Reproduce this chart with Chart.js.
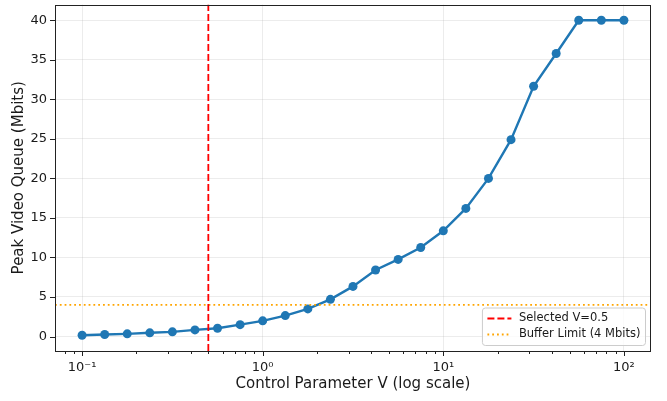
<!DOCTYPE html>
<html>
<head>
<meta charset="utf-8">
<script src="https://cdn.jsdelivr.net/npm/chart.js@4/dist/chart.umd.min.js"></script>
<style>
  html, body { margin: 0; padding: 0; background: #fff; }
  #wrap { width: 667px; height: 401px; position: relative; }
</style>
</head>
<body>
<div id="wrap"><canvas id="c"></canvas></div>
<script>
// ---- data ----
const controlV = [0.1, 0.1334, 0.1778, 0.2371, 0.3162, 0.4217, 0.5623, 0.7499, 1.0, 1.3335, 1.7783, 2.3714,
  3.1623, 4.2170, 5.6234, 7.4989, 10.0, 13.335, 17.783, 23.714, 31.623, 42.170, 56.234, 74.989, 100.0];
const peakQueue = [0.16, 0.25, 0.34, 0.47, 0.59, 0.84, 1.05, 1.5, 1.98, 2.65, 3.49, 4.7,
  6.34, 8.41, 9.75, 11.26, 13.37, 16.2, 20.0, 24.9, 31.65, 35.8, 40.0, 40.0, 40.0];
const selectedV = 0.5;
const bufferLimit = 4;
const xMajorTicks = [0.1, 1, 10, 100];
const xTickLabels = ['10\u207B\u00B9', '10\u2070', '10\u00B9', '10\u00B2'];
const yTicks = [0, 5, 10, 15, 20, 25, 30, 35, 40];
const xRange = [0.0708, 141.25];
const yRange = [-1.83, 41.99];

const FONT = "'DejaVu Sans', 'Liberation Sans', sans-serif";
const BLUE = '#1f77b4';
const TICK_FONT = 13;
const TITLE_FONT = 15;
const LEGEND_FONT = 11.5;

// minor ticks 2..9 x 10^k inside the range
const xAllTicks = [];
for (let e = -2; e <= 2; e++) {
  for (let m = 1; m <= 9; m++) {
    const v = +(m * Math.pow(10, e)).toPrecision(6);
    if (v >= xRange[0] && v <= xRange[1]) xAllTicks.push(v);
  }
}
const isMajor = v => xMajorTicks.some(t => Math.abs(t - v) / t < 1e-6);

const framePlugin = {
  id: 'mplFrame',
  afterDraw(chart) {
    const ctx = chart.ctx;
    const a = chart.chartArea;
    const xs = chart.scales.x, ys = chart.scales.y;
    ctx.save();
    ctx.strokeStyle = '#222';
    ctx.lineWidth = 1;
    xs.ticks.forEach(t => {
      const px = Math.round(xs.getPixelForValue(t.value)) + 0.5;
      const len = isMajor(t.value) ? 5 : 3;
      ctx.beginPath();
      ctx.moveTo(px, a.bottom);
      ctx.lineTo(px, a.bottom + len);
      ctx.stroke();
    });
    ys.ticks.forEach(t => {
      const py = Math.round(ys.getPixelForValue(t.value)) + 0.5;
      ctx.beginPath();
      ctx.moveTo(a.left - 5, py);
      ctx.lineTo(a.left, py);
      ctx.stroke();
    });
    ctx.strokeRect(Math.round(a.left) + 0.5, Math.round(a.top) + 0.5,
      Math.round(a.right - a.left) - 1, Math.round(a.bottom - a.top) - 1);

    // legend (matplotlib style)
    const items = chart.data.datasets.filter(d => d.inLegend);
    ctx.font = LEGEND_FONT + "px " + FONT;
    const tw = Math.max(...items.map(d => ctx.measureText(d.label).width));
    const w = 36.5 + tw + 5;
    const rowH = 16;
    const h = 37.5;
    const right = a.right - 5.5, bottom = a.bottom - 5.5;
    const left = right - w, top = bottom - h;
    const r = 3;
    ctx.beginPath();
    ctx.moveTo(left + r, top);
    ctx.lineTo(right - r, top);
    ctx.quadraticCurveTo(right, top, right, top + r);
    ctx.lineTo(right, bottom - r);
    ctx.quadraticCurveTo(right, bottom, right - r, bottom);
    ctx.lineTo(left + r, bottom);
    ctx.quadraticCurveTo(left, bottom, left, bottom - r);
    ctx.lineTo(left, top + r);
    ctx.quadraticCurveTo(left, top, left + r, top);
    ctx.closePath();
    ctx.fillStyle = 'rgba(255,255,255,0.8)';
    ctx.fill();
    ctx.strokeStyle = '#cccccc';
    ctx.lineWidth = 1;
    ctx.stroke();
    items.forEach((d, i) => {
      const cy = top + 10.5 + i * rowH;
      ctx.beginPath();
      ctx.setLineDash(d.borderDash || []);
      ctx.strokeStyle = d.borderColor;
      ctx.lineWidth = d.borderWidth;
      ctx.moveTo(left + 5, cy);
      ctx.lineTo(left + 29, cy);
      ctx.stroke();
      ctx.setLineDash([]);
      ctx.fillStyle = '#1a1a1a';
      ctx.textBaseline = 'middle';
      ctx.textAlign = 'left';
      ctx.fillText(d.label, left + 36.5, cy);
    });
    ctx.restore();
  }
};

new Chart(document.getElementById('c'), {
  type: 'line',
  data: {
    datasets: [
      {
        label: 'Peak Video Queue',
        data: controlV.map((v, i) => ({ x: v, y: peakQueue[i] })),
        borderColor: BLUE,
        backgroundColor: BLUE,
        borderWidth: 2.4,
        pointRadius: 4.5,
        pointHoverRadius: 4.5,
        pointBorderWidth: 0,
        pointBackgroundColor: BLUE,
        tension: 0,
        order: 2
      },
      {
        label: 'Selected V=' + selectedV,
        inLegend: true,
        data: [{ x: selectedV, y: yRange[0] }, { x: selectedV, y: yRange[1] }],
        borderColor: '#ff0000',
        borderWidth: 1.8,
        borderDash: [7, 3],
        pointRadius: 0,
        order: 0
      },
      {
        label: 'Buffer Limit (' + bufferLimit + ' Mbits)',
        inLegend: true,
        data: [{ x: xRange[0], y: bufferLimit }, { x: xRange[1], y: bufferLimit }],
        borderColor: '#ffa500',
        borderWidth: 1.8,
        borderDash: [1.8, 3],
        pointRadius: 0,
        order: 1
      }
    ]
  },
  options: {
    responsive: true,
    maintainAspectRatio: false,
    animation: false,
    events: [],
    layout: { padding: { top: 4, right: 16, left: 0, bottom: 0 } },
    plugins: {
      legend: { display: false },
      tooltip: { enabled: false }
    },
    scales: {
      x: {
        type: 'logarithmic',
        min: xRange[0],
        max: xRange[1],
        afterBuildTicks: scale => {
          scale.ticks = xAllTicks.map(v => ({ value: v, major: isMajor(v) }));
        },
        afterFit: scale => {
          scale.height = 50;
          scale.paddingLeft = 0; scale.paddingRight = 0;
        },
        ticks: {
          autoSkip: false,
          maxRotation: 0,
          padding: 9,
          color: '#1a1a1a',
          font: { family: FONT, size: TICK_FONT },
          callback: (value) => {
            const idx = xMajorTicks.findIndex(t => Math.abs(t - value) / t < 1e-6);
            return idx >= 0 ? xTickLabels[idx] : '';
          }
        },
        grid: {
          drawTicks: false,
          lineWidth: 0.8,
          color: ctx => (ctx.tick && isMajor(ctx.tick.value)) ? 'rgba(176,176,176,0.3)' : 'rgba(0,0,0,0)'
        },
        border: { display: false },
        title: {
          display: true,
          text: 'Control Parameter V (log scale)',
          color: '#1a1a1a',
          font: { family: FONT, size: TITLE_FONT },
          padding: { top: 0, bottom: 8 }
        }
      },
      y: {
        type: 'linear',
        min: yRange[0],
        max: yRange[1],
        afterBuildTicks: scale => {
          scale.ticks = yTicks.map(v => ({ value: v }));
        },
        afterFit: scale => {
          scale.width = 55;
          scale.paddingTop = 0; scale.paddingBottom = 0;
        },
        ticks: {
          padding: 8,
          color: '#1a1a1a',
          font: { family: FONT, size: TICK_FONT },
          callback: v => String(v)
        },
        grid: {
          drawTicks: false,
          lineWidth: 0.8,
          color: 'rgba(176,176,176,0.3)'
        },
        border: { display: false },
        title: {
          display: true,
          text: 'Peak Video Queue (Mbits)',
          color: '#1a1a1a',
          font: { family: FONT, size: TITLE_FONT },
          padding: { top: 10, bottom: 0 }
        }
      }
    }
  },
  plugins: [framePlugin]
});
</script>
</body>
</html>
